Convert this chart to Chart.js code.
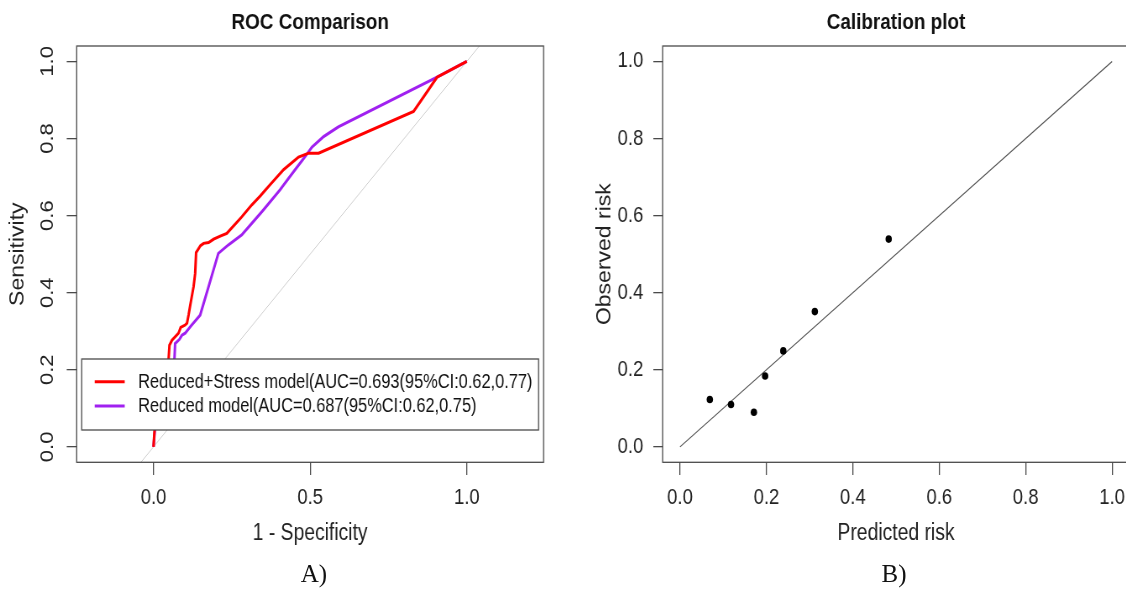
<!DOCTYPE html>
<html>
<head>
<meta charset="utf-8">
<script src="https://cdn.jsdelivr.net/npm/chart.js@4.4.1/dist/chart.umd.min.js"></script>
<style>
  html, body { margin: 0; padding: 0; background: #fff; }
  body { width: 1126px; height: 589px; overflow: hidden; position: relative; }
  canvas { position: absolute; top: 0; transform-origin: 0 0; }
  #roc { left: 0; }
  #cal { left: 560px; }
  .cap { position: absolute; top: 559px; width: 100px; line-height: 30px; text-align: center;
         font-size: 25px; font-family: "Liberation Serif", "Times New Roman", serif; color: #111; }
</style>
</head>
<body>
<canvas id="roc" height="589"></canvas>
<canvas id="cal" height="589"></canvas>
<div class="cap" style="left:264px">A)</div>
<div class="cap" style="left:844px">B)</div>
<script>
// ROC curves: 1 - specificity / sensitivity
const stressFpr = [0, 0.003, 0.01, 0.025, 0.04, 0.048, 0.051, 0.059, 0.08, 0.087, 0.101, 0.107, 0.112, 0.117,
  0.128, 0.133, 0.136, 0.15, 0.16, 0.176, 0.192, 0.213, 0.234, 0.282, 0.314, 0.341, 0.372, 0.415, 0.463,
  0.495, 0.527, 0.83, 0.905, 1];
const stressTpr = [0, 0.039, 0.09, 0.15, 0.2, 0.225, 0.264, 0.277, 0.295, 0.31, 0.316, 0.321, 0.342, 0.366,
  0.416, 0.45, 0.504, 0.522, 0.528, 0.53, 0.539, 0.547, 0.554, 0.597, 0.628, 0.651, 0.68, 0.719, 0.752,
  0.762, 0.762, 0.87, 0.959, 1];
const reducedFpr = [0, 0.005, 0.02, 0.04, 0.06, 0.067, 0.069, 0.083, 0.091, 0.101, 0.122, 0.149, 0.176,
  0.207, 0.239, 0.282, 0.351, 0.404, 0.447, 0.484, 0.506, 0.543, 0.59, 0.905, 1];
const reducedTpr = [0, 0.05, 0.12, 0.18, 0.21, 0.23, 0.268, 0.279, 0.29, 0.295, 0.316, 0.342, 0.416,
  0.502, 0.524, 0.55, 0.615, 0.667, 0.714, 0.753, 0.778, 0.805, 0.83, 0.959, 1];
const chanceLine = [-0.04, 1.04];

// calibration groups
const predictedRisk = [0.069, 0.118, 0.171, 0.197, 0.239, 0.312, 0.483];
const observedRisk = [0.123, 0.110, 0.090, 0.184, 0.249, 0.351, 0.539];
const idealLine = [0, 1];

const rocXTicks = [0, 0.5, 1];
const rocYTicks = [0, 0.2, 0.4, 0.6, 0.8, 1];
const calXTicks = [0, 0.2, 0.4, 0.6, 0.8, 1];
const calYTicks = [0, 0.2, 0.4, 0.6, 0.8, 1];

const stressLabel = 'Reduced+Stress model(AUC=0.693(95%CI:0.62,0.77)';
const reducedLabel = 'Reduced model(AUC=0.687(95%CI:0.62,0.75)';

// the original figure was squashed sideways; draw wider and squeeze the canvas back
const SQ = 0.84;
const hx = v => v / SQ;

const family = '"Liberation Sans", Arial, sans-serif';
const fs = { title: 22.5, axis: 23, tick: 22, legend: 19.5 };

function textWidth(str, size) {
  const ctx = document.createElement('canvas').getContext('2d');
  ctx.font = size + 'px ' + family;
  return ctx.measureText(str).width;
}

function setup(id, pageWidth) {
  const c = document.getElementById(id);
  c.width = Math.round(hx(pageWidth));
  c.style.transform = 'scaleX(' + SQ + ')';
  return c;
}

const pts = (xs, ys) => xs.map((x, i) => ({ x: x, y: ys[i] }));
const fmt = v => Number(v).toFixed(1);
const ink = '#222';
const frame = '#4a4a4a';

const titlePad = (46 - fs.title * 1.2) / 2;

function xAxis(min, max, ticks, text) {
  return {
    type: 'linear', position: 'bottom', min: min, max: max,
    afterBuildTicks: s => { s.ticks = ticks.map(v => ({ value: v })); },
    afterFit: s => { s.height = 88; },
    grid: { drawOnChartArea: false, drawTicks: true, tickLength: 12.7, color: frame, lineWidth: 1.3 },
    border: { display: false },
    ticks: { padding: 23 - fs.tick * 0.6, color: ink, font: { family: family, size: fs.tick },
             autoSkip: false, maxRotation: 0, callback: fmt },
    title: { display: true, text: text, color: ink, font: { family: family, size: fs.axis },
             padding: { top: 0, bottom: 17 - fs.axis * 0.6 } }
  };
}

const boxPlugin = {
  id: 'box',
  afterDraw(chart) {
    const { ctx, chartArea: a } = chart;
    ctx.save();
    ctx.strokeStyle = frame;
    ctx.lineWidth = 1.3;
    ctx.strokeRect(a.left, a.top, a.right - a.left, a.bottom - a.top);
    ctx.restore();
  }
};

const rocLegend = {
  id: 'rocLegend',
  afterDatasetsDraw(chart) {
    const { ctx, chartArea: a } = chart;
    const x0 = a.left + hx(5), x1 = a.right - hx(5), y0 = a.bottom - 103.3, y1 = a.bottom - 32.3;
    ctx.save();
    ctx.fillStyle = '#fff';
    ctx.fillRect(x0, y0, x1 - x0, y1 - y0);
    ctx.strokeStyle = frame;
    ctx.lineWidth = 1.3;
    ctx.strokeRect(x0, y0, x1 - x0, y1 - y0);
    ctx.font = fs.legend + 'px ' + family;
    ctx.textBaseline = 'middle';
    chart.data.datasets.slice(0, 2).forEach((ds, i) => {
      const y = y0 + 22.7 + i * 24.3;
      ctx.strokeStyle = ds.borderColor;
      ctx.lineWidth = 3;
      ctx.beginPath();
      ctx.moveTo(x0 + hx(13), y);
      ctx.lineTo(x0 + hx(43), y);
      ctx.stroke();
      ctx.fillStyle = '#111';
      ctx.fillText(ds.label, x0 + hx(56.5), y + 1);
    });
    ctx.restore();
  }
};

new Chart(setup('roc', 560), {
  type: 'scatter',
  data: {
    datasets: [
      { label: stressLabel, data: pts(stressFpr, stressTpr), showLine: true,
        borderColor: '#ff0000', borderWidth: 3, pointRadius: 0 },
      { label: reducedLabel, data: pts(reducedFpr, reducedTpr), showLine: true,
        borderColor: '#a020f0', borderWidth: 3, pointRadius: 0 },
      { label: 'chance', data: pts(chanceLine, chanceLine), showLine: true,
        borderColor: '#cccccc', borderWidth: 1, pointRadius: 0 }
    ]
  },
  options: {
    responsive: false,
    animation: false,
    layout: { padding: { left: 0, right: hx(16.7), top: 0, bottom: 589 - 462.3 - 88 } },
    plugins: {
      legend: { display: false },
      tooltip: { enabled: false },
      title: { display: true, text: 'ROC Comparison', fullSize: false, color: '#111',
               font: { family: family, size: fs.title, weight: 'bold' },
               padding: { top: titlePad, bottom: titlePad } }
    },
    scales: {
      x: xAxis(-0.245, 1.245, rocXTicks, '1 - Specificity'),
      y: {
        type: 'linear', position: 'left', min: -0.04, max: 1.04,
        afterBuildTicks: s => { s.ticks = rocYTicks.map(v => ({ value: v })); },
        afterFit: s => { s.width = hx(76.7); },
        grid: { drawOnChartArea: false, drawTicks: true, tickLength: hx(10), color: frame, lineWidth: 1.3 },
        border: { display: false },
        ticks: { minRotation: 90, maxRotation: 90, crossAlign: 'center',
                 padding: hx(76.7 - 10 - 48) - textWidth('0.0', fs.tick) / 2,
                 color: ink, font: { family: family, size: fs.tick }, autoSkip: false, callback: fmt },
        title: { display: true, text: 'Sensitivity', color: ink, font: { family: family, size: fs.axis },
                 padding: { top: hx(18) - fs.axis * 0.6, bottom: 0 } }
      }
    }
  },
  plugins: [rocLegend, boxPlugin]
});

new Chart(setup('cal', 600), {
  type: 'scatter',
  data: {
    datasets: [
      { label: 'groups', data: pts(predictedRisk, observedRisk), pointRadius: 3.8,
        pointBackgroundColor: '#000', pointBorderWidth: 0 },
      { label: 'ideal', data: pts(idealLine, idealLine), showLine: true,
        borderColor: '#555', borderWidth: 1.2, pointRadius: 0 }
    ]
  },
  options: {
    responsive: false,
    animation: false,
    layout: { padding: { left: 0, right: hx(600 - 569.6), top: 0, bottom: 589 - 462.3 - 88 } },
    plugins: {
      legend: { display: false },
      tooltip: { enabled: false },
      title: { display: true, text: 'Calibration plot', fullSize: false, color: '#111',
               font: { family: family, size: fs.title, weight: 'bold' },
               padding: { top: titlePad, bottom: titlePad } }
    },
    scales: {
      x: xAxis(-0.04, 1.04, calXTicks, 'Predicted risk'),
      y: {
        type: 'linear', position: 'left', min: -0.04, max: 1.04,
        afterBuildTicks: s => { s.ticks = calYTicks.map(v => ({ value: v })); },
        afterFit: s => { s.width = hx(102.7); },
        grid: { drawOnChartArea: false, drawTicks: true, tickLength: hx(9.4), color: frame, lineWidth: 1.3 },
        border: { display: false },
        ticks: { padding: hx(10), color: ink, font: { family: family, size: fs.tick }, autoSkip: false, callback: fmt },
        title: { display: true, text: 'Observed risk', color: ink, font: { family: family, size: fs.axis },
                 padding: { top: hx(45) - fs.axis * 0.6, bottom: 0 } }
      }
    }
  },
  plugins: [boxPlugin]
});
</script>
</body>
</html>
